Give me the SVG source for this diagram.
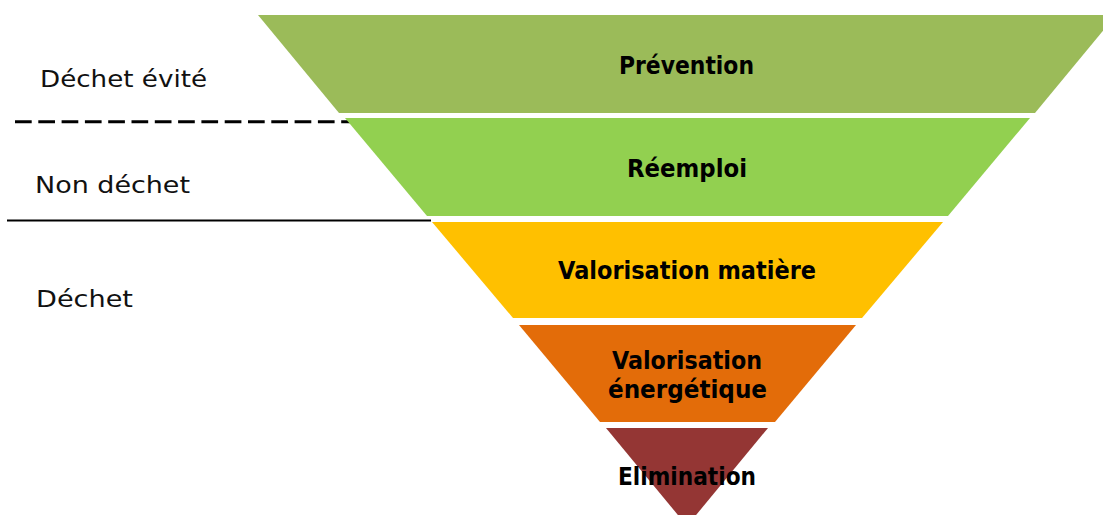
<svg xmlns="http://www.w3.org/2000/svg" width="1103" height="515" viewBox="0 0 1103 515">
<style>
.lvl{font-family:"DejaVu Sans","Liberation Sans",sans-serif;font-weight:bold;font-size:24px;fill:#000;text-anchor:middle}
.side{font-family:"DejaVu Sans","Liberation Sans",sans-serif;font-size:23px;fill:#111}
</style>
<rect width="1103" height="515" fill="#fff"/>
<g id="connectors">
<line x1="15" y1="121.7" x2="350" y2="121.7" stroke="#000" stroke-width="3" stroke-dasharray="16.7 6.6"/>
<line x1="7" y1="220.5" x2="431" y2="220.5" stroke="#000" stroke-width="2"/>
</g>
<g id="prevention">
<polygon points="258,15 1116,15 1035,113 339,113" fill="#9BBB59"/>
<text class="lvl" x="686.5" y="74" textLength="135" lengthAdjust="spacingAndGlyphs">Prévention</text>
</g>
<g id="reemploi">
<polygon points="345,118 1030,118 948,216 427,216" fill="#92D050"/>
<text class="lvl" x="687" y="177" textLength="120" lengthAdjust="spacingAndGlyphs">Réemploi</text>
</g>
<g id="valorisation-matiere">
<polygon points="432,222 943,222 862,318 513,318" fill="#FFC000"/>
<text class="lvl" x="687" y="279" textLength="258" lengthAdjust="spacingAndGlyphs">Valorisation matière</text>
</g>
<g id="valorisation-energetique">
<polygon points="519,325 856,325 775,422 600,422" fill="#E36C09"/>
<text class="lvl" x="687" y="369" textLength="150" lengthAdjust="spacingAndGlyphs">Valorisation</text>
<text class="lvl" x="687.5" y="398" textLength="159" lengthAdjust="spacingAndGlyphs">énergétique</text>
</g>
<g id="elimination">
<polygon points="606,428 768,428 687,526" fill="#943634"/>
<text class="lvl" x="687" y="485" textLength="138" lengthAdjust="spacingAndGlyphs">Elimination</text>
</g>
<g id="labels">
<text class="side" x="40" y="87" textLength="167" lengthAdjust="spacingAndGlyphs">Déchet évité</text>
<text class="side" x="35" y="193" textLength="155" lengthAdjust="spacingAndGlyphs">Non déchet</text>
<text class="side" x="36" y="307" textLength="97" lengthAdjust="spacingAndGlyphs">Déchet</text>
</g>
</svg>
